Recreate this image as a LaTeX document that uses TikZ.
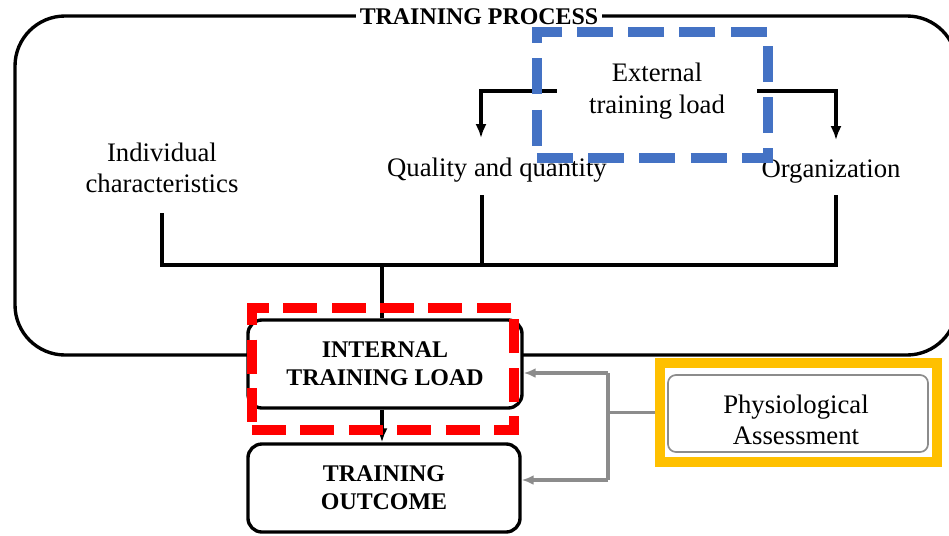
\documentclass[tikz,border=0pt]{standalone}
\usepackage{fontspec}
\setmainfont{Liberation Serif}
\usetikzlibrary{arrows.meta}

\definecolor{extblue}{RGB}{68,114,196}
\definecolor{physyellow}{RGB}{255,192,0}
\definecolor{linkgray}{RGB}{140,140,140}

\begin{document}
\begin{tikzpicture}[x=0.025cm, y=-0.025cm,
			txt/.style={align=center, font=\fontsize{19}{22.5}\selectfont, inner sep=2pt},
			bold/.style={align=center, font=\bfseries\fontsize{17}{20}\selectfont},
			stagebox/.style={draw, line width=2.4pt, rounded corners=0.35cm, fill=white,
				minimum width=6.85cm, minimum height=2.2cm, bold},
			link/.style={line width=2.4pt},
			arrow/.style={link, -{Latex[length=0.35cm, width=0.28cm]}},
			grayline/.style={line width=2.4pt, draw=linkgray},
			grayarrow/.style={grayline, -{Latex[length=0.3cm, width=0.25cm]}},
			frame/.style={line width=7pt, minimum width=#1}]

		\useasboundingbox (0,0) rectangle (949,535);

		% training process frame
		\draw[link, rounded corners=1.25cm] (15,16) rectangle (957,355);
		\node[bold, fill=white, inner sep=3pt] (proc) at (479,17) {TRAINING PROCESS};

		% factors
		\node[txt] (ind) at (162,168) {Individual\\characteristics};
		\node[txt] (qual) at (497,170) {Quality and quantity};
		\node[txt] (org) at (831,172) {Organization};
		\node[txt, minimum width=5cm] (ext) at (657,91) {External\\training load};

		\coordinate (qtop) at (481,138);
		\coordinate (otop) at (836,140);
		\coordinate (ibot) at (162,213);
		\coordinate (qbot) at (482,195);
		\coordinate (obot) at (836,195);
		\coordinate (bus) at (382,265);

		\draw[arrow] (ext.west) -| (qtop);
		\draw[arrow] (ext.east) -| (otop);
		\draw[link] (ibot) |- (bus);
		\draw[link] (qbot) -- (qbot |- bus);
		\draw[link] (obot) |- (bus);

		% loads
		\node[stagebox] (itl) at (385,364) {INTERNAL\\TRAINING LOAD};
		\node[stagebox, minimum width=6.8cm] (out) at (384,488) {TRAINING\\OUTCOME};
		\draw[link] (bus) -- (bus |- itl.north);
		\draw[arrow] (bus |- itl.south) -- (bus |- out.north);

		% assessment
		\node[draw=linkgray, line width=1.2pt, rounded corners=0.2cm, fill=white,
			minimum width=6.5cm, minimum height=1.925cm] (phys) at (798,413.5) {};
		\node[txt] (physlabel) at (796,420) {Physiological\\Assessment};
		\node[frame=6.925cm, draw=physyellow, minimum height=2.475cm] (physframe) at (798.5,412.5) {};

		\coordinate (gtop) at (608,373);
		\coordinate (gbot) at (608,480);
		\draw[grayline] (physframe.west) -- (physframe.west -| gtop);
		\draw[grayline] (gtop) -- (gbot);
		\draw[grayarrow] (gtop) -- (itl.east |- gtop);
		\draw[grayarrow] (gbot) -- (out.east |- gbot);

		% highlight frames
		\node[frame=5.775cm, draw=extblue, minimum height=3.15cm,
			dash pattern=on 0.9cm off 0.38cm] (extframe) at (652.5,95) {};
		\node[frame=6.55cm, draw=red, minimum height=3.05cm,
			dash pattern=on 0.85cm off 0.36cm] (itlframe) at (383,369) {};
	\end{tikzpicture}
\end{document}
